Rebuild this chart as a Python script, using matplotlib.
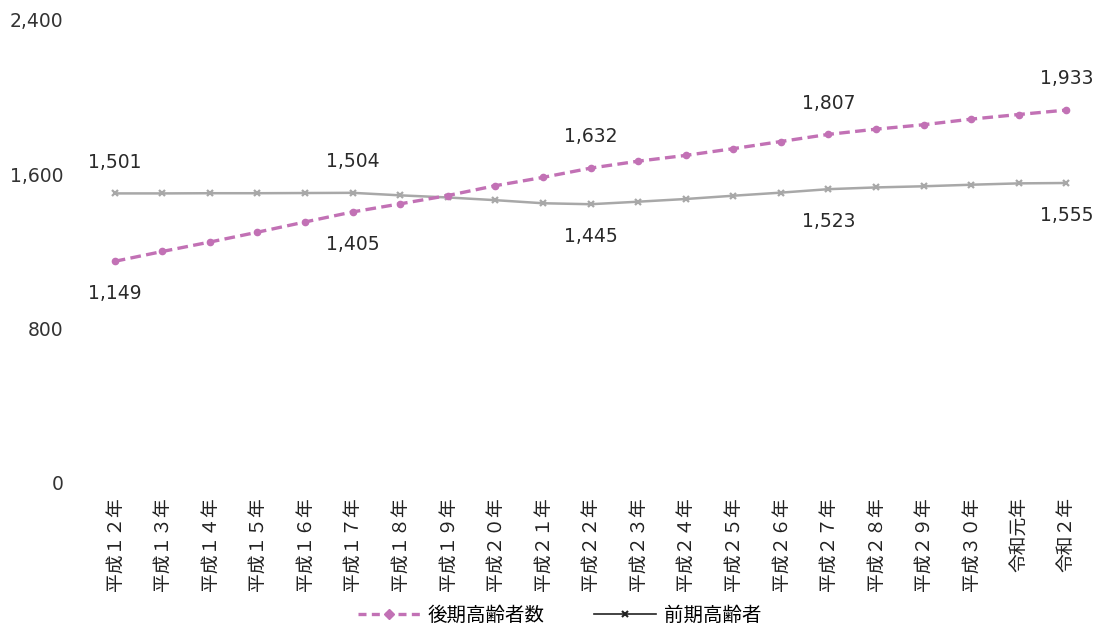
import matplotlib.pyplot as plt
from matplotlib.lines import Line2D
from matplotlib.ticker import FuncFormatter

plt.rcParams['font.family'] = ['DejaVu Sans', 'Noto Sans CJK JP']

# categories (x axis)
years = ['平成１２年', '平成１３年', '平成１４年', '平成１５年', '平成１６年',
         '平成１７年', '平成１８年', '平成１９年', '平成２０年', '平成２１年',
         '平成２２年', '平成２３年', '平成２４年', '平成２５年', '平成２６年',
         '平成２７年', '平成２８年', '平成２９年', '平成３０年', '令和元年', '令和２年']

# series values
kouki = [1149, 1200, 1249, 1300, 1353, 1405, 1447, 1490, 1541, 1584, 1632,
         1668, 1698, 1733, 1770, 1807, 1834, 1857, 1886, 1910, 1933]
zenki = [1501, 1501, 1502, 1502, 1503, 1504, 1491, 1480, 1466, 1450, 1445,
         1458, 1472, 1489, 1505, 1523, 1532, 1538, 1546, 1553, 1555]

# which points get a data label
label_idx = [0, 5, 10, 15, 20]

yticks = [0, 800, 1600, 2400]

purple = '#C271B5'
gray = '#A8A8A8'

fig = plt.figure(figsize=(11.08, 6.28), dpi=100)
ax = fig.add_axes([0.0821, 0.2309, 0.9017, 0.7373])

x = list(range(len(years)))
ax.plot(x, kouki, color=purple, lw=2.4, ls=(0, (3.2, 1.6)), marker='o', ms=4.5,
        zorder=3)
ax.plot(x, zenki, color=gray, lw=1.8, marker='x', ms=5, mew=1.6, zorder=2)

# offsets in points (1pt = 1.39px at dpi 100)
up, down = 22.5, -23.5
for i in label_idx:
    top = kouki[i] > zenki[i]
    ax.annotate(f'{kouki[i]:,}', (i, kouki[i]), xytext=(0, up if top else down),
                textcoords='offset points', ha='center', va='center',
                fontsize=13.5, color='#2a2a2a')
    ax.annotate(f'{zenki[i]:,}', (i, zenki[i]), xytext=(0, down if top else up),
                textcoords='offset points', ha='center', va='center',
                fontsize=13.5, color='#2a2a2a')

ax.set_xlim(-0.5, len(years) - 0.5)
ax.set_ylim(0, 2400)
ax.set_yticks(yticks)
ax.yaxis.set_major_formatter(FuncFormatter(lambda v, p: f'{int(v):,}'))
ax.set_xticks(x)
ax.set_xticklabels(years, rotation=90, fontsize=13.5,
                   family=['Noto Sans CJK JP', 'DejaVu Sans'])
ax.tick_params(axis='y', length=0, pad=20, labelsize=13.5, labelcolor='#333333')
ax.tick_params(axis='x', length=0, pad=10, labelcolor='#222222')
for s in ax.spines.values():
    s.set_visible(False)

handles = [
    Line2D([], [], color=purple, lw=2.4, ls=(0, (2.4, 1.6)), marker='D', ms=5),
    Line2D([], [], color='#222222', lw=1.2, marker='x', ms=5, mew=1.5),
]
fig.legend(handles, ['後期高齢者数', '前期高齢者'], loc='center',
           bbox_to_anchor=(0.505, 0.02), ncol=2, frameon=False,
           prop={'family': ['Noto Sans CJK JP'], 'size': 14},
           handlelength=3.2, handletextpad=0.4, columnspacing=2.5)

fig.savefig('out.png', dpi=100)
